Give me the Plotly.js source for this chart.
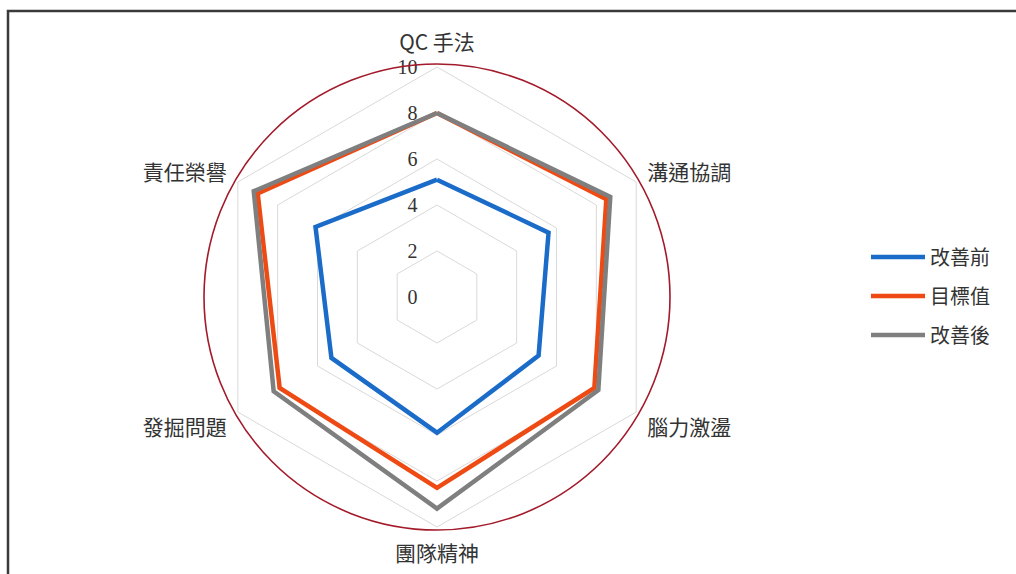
<!DOCTYPE html>
<html>
<head>
<meta charset="utf-8">
<script src="https://cdn.plot.ly/plotly-3.0.1.min.js"></script>
<style>
html,body{margin:0;padding:0;background:#fff;}
#chart{width:1016px;height:574px;}
</style>
</head>
<body>
<div id="chart"></div>
<script>
var categories = ['QC 手法', '溝通協調', '腦力激盪', '團隊精神', '發掘問題', '責任榮譽'];
var seriesNames = ['改善前', '目標值', '改善後'];
var before = [5.1, 5.6, 5.1, 5.9, 5.3, 6.1];
var target = [8.0, 8.5, 7.9, 8.3, 7.9, 9.0];
var after  = [8.0, 8.7, 8.1, 9.2, 8.2, 9.2];
var radialTicks = [0, 2, 4, 6, 8, 10];
var colors = ['#1A6CC8', '#EE4A14', '#7F7F7F'];

function closed(a){ return a.concat([a[0]]); }

var seriesVals = [before, target, after];
var traces = seriesVals.map(function(v, i){
  return {
    type: 'scatterpolar',
    r: closed(v),
    theta: closed(categories),
    mode: 'lines',
    name: seriesNames[i],
    legendgroup: 'g' + i,
    line: {color: colors[i], width: 4.5, shape: 'linear'},
    subplot: 'polar',
    hoverinfo: 'r+theta+name'
  };
});
traces.push({
  type: 'scatterpolar', r: [0], theta: [0], mode: 'markers',
  marker: {size: 1, opacity: 0}, showlegend: false, hoverinfo: 'skip',
  subplot: 'polar2'
});

var W = 1016, H = 574;
function px(x){ return x / W; }
function py(y){ return 1 - y / H; }

var layout = {
  width: W, height: H,
  margin: {l: 0, r: 0, t: 0, b: 0},
  paper_bgcolor: '#fff',
  showlegend: true,
  font: {family: '"Noto Sans CJK TC", "Noto Sans", sans-serif', color: '#333'},
  polar: {
    domain: {x: [px(207), px(667)], y: [py(527), py(67)]},
    bgcolor: 'rgba(0,0,0,0)',
    gridshape: 'linear',
    radialaxis: {
      range: [0, 10],
      tickvals: radialTicks,
      ticktext: radialTicks.map(String),
      angle: 90,
      tickangle: 90,
      side: 'counterclockwise',
      showline: false,
      ticks: 'outside',
      ticklen: 12,
      tickcolor: 'rgba(0,0,0,0)',
      gridcolor: '#D9D9D9',
      gridwidth: 1,
      tickfont: {family: '"Liberation Serif", serif', size: 20, color: '#333'}
    },
    angularaxis: {
      direction: 'clockwise',
      rotation: 90,
      showgrid: false,
      showline: true,
      linecolor: '#D9D9D9',
      linewidth: 1,
      ticks: 'outside',
      ticklen: 8,
      tickcolor: 'rgba(0,0,0,0)',
      tickfont: {family: '"Noto Sans CJK TC", sans-serif', size: 21, color: '#333'}
    }
  },
  polar2: {
    domain: {x: [px(204), px(670)], y: [py(530), py(64)]},
    bgcolor: 'rgba(0,0,0,0)',
    radialaxis: {visible: false, range: [0, 10]},
    angularaxis: {
      showgrid: false, showline: true, linecolor: '#A31A2A', linewidth: 1.6,
      ticks: '', showticklabels: false
    }
  },
  legend: {
    x: px(866), y: py(296), xanchor: 'left', yanchor: 'middle',
    tracegroupgap: 10,
    itemwidth: 54,
    font: {family: '"Noto Sans CJK TC", sans-serif', size: 20, color: '#333'},
    bgcolor: 'rgba(0,0,0,0)'
  },
  shapes: [{
    type: 'rect', xref: 'paper', yref: 'paper',
    x0: px(8), x1: 1.2, y0: -0.2, y1: py(11),
    line: {color: '#3A3A3A', width: 2.5}, fillcolor: 'rgba(0,0,0,0)', layer: 'below'
  }]
};

Plotly.newPlot('chart', traces, layout, {displayModeBar: false, staticPlot: true});
</script>
</body>
</html>
